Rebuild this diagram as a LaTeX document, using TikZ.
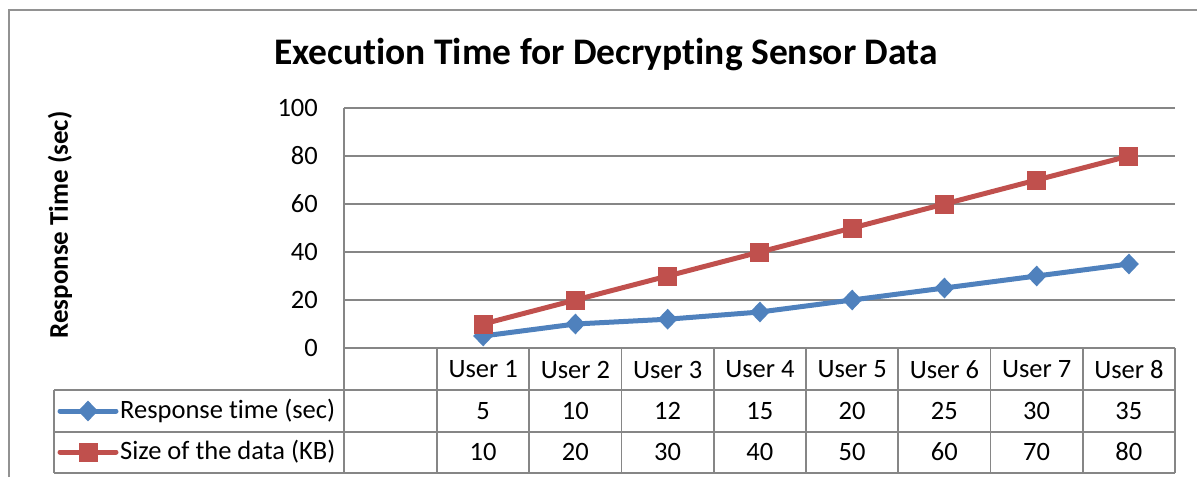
\documentclass[tikz,border=0pt]{standalone}
\usepackage{fontspec}
\setmainfont{Carlito}[Ligatures=NoCommon]
\usetikzlibrary{shapes.geometric}
\definecolor{gridc}{HTML}{868686}
\definecolor{sblue}{HTML}{4F81BD}
\definecolor{sred}{HTML}{C0504D}
\begin{document}
\begin{tikzpicture}[x=1pt,y=-1pt,
  gridl/.style={draw=gridc,line width=1.6pt},
  framel/.style={draw=gridc!90,line width=1.6pt},
  bline/.style={draw=sblue,line width=5pt,line join=round},
  rline/.style={draw=sred,line width=5pt,line join=round},
  bmark/.style={shape=diamond,fill=sblue,inner sep=0pt,minimum width=20pt,minimum height=21pt},
  rmark/.style={shape=rectangle,fill=sred,inner sep=0pt,minimum size=19pt},
  lab/.style={font=\fontsize{26.5}{30}\selectfont,inner sep=0pt},
  ttl/.style={font=\bfseries\fontsize{37.5}{42}\selectfont,inner sep=0pt},
  ytl/.style={font=\bfseries\fontsize{27}{31}\selectfont,inner sep=0pt,rotate=90}]
\useasboundingbox (0,0) rectangle (1197,477);
% outer frame
\draw[framel] (9,477) -- (9,10) -- (1197,10);
% title
\node[ttl] (title) at (606,55) {Execution Time for Decrypting Sensor Data};
% y axis title
\node[ytl] (ytitle) at (60,225) {Response Time (sec)};
% gridlines and tick labels
\foreach \v in {20,40,60,80,100}{
  \draw[gridl] (344,348-2.4*\v) -- (1175,348-2.4*\v);
}
\foreach \v in {0,20,40,60,80,100}{
  \node[lab,anchor=east] (tick\v) at (318,348-2.4*\v) {\v};
}
% axis & table lines
\draw[gridl] (344,108) -- (344,473);
\draw[gridl] (344,348) -- (1175,348);
\draw[gridl] (54,390) -- (1175,390);
\draw[gridl] (54,432) -- (1175,432);
\draw[gridl] (54,473) -- (1175,473);
\draw[gridl] (54,390) -- (54,473);
\foreach \k in {0,...,8}{
  \draw[gridl] (437+92.25*\k,348) -- (437+92.25*\k,473);
}
% header and values
\foreach \i/\a/\b in {1/5/10,2/10/20,3/12/30,4/15/40,5/20/50,6/25/60,7/30/70,8/35/80}{
  \node[lab] (hdr\i) at (437+92.25*\i-46.1,369.5) {User \i};
  \node[lab] (va\i) at (437+92.25*\i-46.1,411) {\a};
  \node[lab] (vb\i) at (437+92.25*\i-46.1,452) {\b};
  \coordinate (r\i) at (437+92.25*\i-46.1,348-2.4*\a);
  \coordinate (s\i) at (437+92.25*\i-46.1,348-2.4*\b);
}
% series lines
\draw[bline] (r1) -- (r2) -- (r3) -- (r4) -- (r5) -- (r6) -- (r7) -- (r8);
\draw[rline] (s1) -- (s2) -- (s3) -- (s4) -- (s5) -- (s6) -- (s7) -- (s8);
\foreach \i in {1,...,8}{
  \node[bmark] (mr\i) at (r\i) {};
}
\foreach \i in {1,...,8}{
  \node[rmark] (ms\i) at (s\i) {};
}
% legend
\coordinate (lb1) at (60,411);
\coordinate (lb2) at (116,411);
\coordinate (lr1) at (60,452);
\coordinate (lr2) at (116,452);
\draw[bline,line cap=round] (lb1) -- (lb2);
\node[bmark] (lbm) at (88,411) {};
\draw[rline,line cap=round] (lr1) -- (lr2);
\node[rmark] (lrm) at (88,452) {};
\node[lab,anchor=west] (leg1) at (120,411) {Response time (sec)};
\node[lab,anchor=west] (leg2) at (120,452) {Size of the data (KB)};
\end{tikzpicture}
\end{document}
